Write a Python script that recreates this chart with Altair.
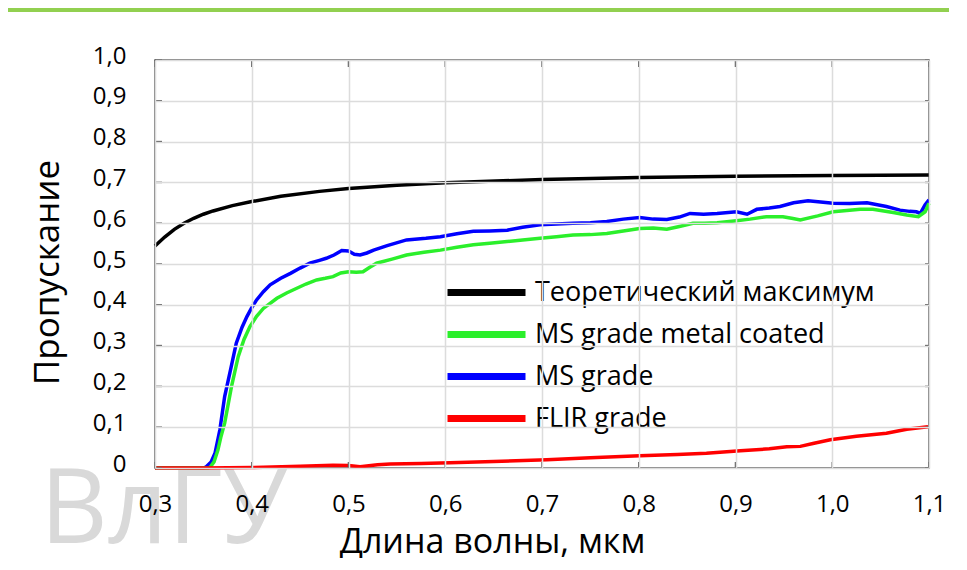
import altair as alt
import pandas as pd

# ---------------- data ----------------
series_names = ["Теоретический максимум", "MS grade metal coated", "MS grade", "FLIR grade"]
series_colors = ["#000000", "#2bef2b", "#0000ff", "#ff0000"]

wl_theory = [0.30, 0.31, 0.32, 0.33, 0.34, 0.35, 0.36, 0.38, 0.40, 0.43, 0.47, 0.50,
             0.55, 0.60, 0.70, 0.80, 0.90, 1.00, 1.10]
t_theory = [0.544, 0.566, 0.585, 0.600, 0.612, 0.622, 0.630, 0.643, 0.653, 0.666, 0.678, 0.685,
            0.693, 0.699, 0.707, 0.712, 0.715, 0.717, 0.718]

wl_ms = [0.30, 0.35, 0.353, 0.358, 0.362, 0.367, 0.372, 0.378, 0.384, 0.390, 0.395, 0.400,
         0.405, 0.412, 0.419, 0.430, 0.440, 0.450, 0.460, 0.470, 0.477, 0.485, 0.493, 0.500,
         0.506, 0.512, 0.519, 0.526, 0.540, 0.560, 0.580, 0.595, 0.612, 0.629, 0.646, 0.664,
         0.680, 0.698, 0.715, 0.732, 0.750, 0.767, 0.784, 0.801, 0.815, 0.829, 0.842, 0.853,
         0.867, 0.881, 0.901, 0.912, 0.922, 0.935, 0.946, 0.960, 0.975, 0.988, 1.001, 1.018,
         1.036, 1.056, 1.070, 1.080, 1.087, 1.091, 1.096, 1.100]
t_ms = [0.0, 0.0, 0.003, 0.015, 0.036, 0.093, 0.175, 0.240, 0.306, 0.345, 0.371, 0.393,
        0.412, 0.432, 0.449, 0.465, 0.477, 0.490, 0.502, 0.509, 0.514, 0.522, 0.533, 0.532,
        0.524, 0.522, 0.527, 0.534, 0.545, 0.559, 0.563, 0.567, 0.574, 0.580, 0.581, 0.583,
        0.590, 0.596, 0.598, 0.600, 0.601, 0.604, 0.610, 0.614, 0.610, 0.609, 0.615, 0.624,
        0.622, 0.624, 0.628, 0.622, 0.634, 0.637, 0.641, 0.650, 0.655, 0.652, 0.649, 0.648,
        0.650, 0.641, 0.632, 0.629, 0.628, 0.624, 0.645, 0.657]

wl_coated = [0.30, 0.355, 0.357, 0.361, 0.365, 0.368, 0.372, 0.379, 0.386, 0.392, 0.398, 0.405,
             0.412, 0.426, 0.436, 0.446, 0.456, 0.467, 0.476, 0.484, 0.492, 0.500, 0.508, 0.515,
             0.522, 0.529, 0.545, 0.560, 0.578, 0.595, 0.612, 0.629, 0.646, 0.664, 0.680, 0.698,
             0.715, 0.732, 0.750, 0.767, 0.784, 0.801, 0.815, 0.829, 0.842, 0.856, 0.868, 0.881,
             0.901, 0.915, 0.932, 0.949, 0.958, 0.967, 0.985, 1.001, 1.015, 1.029, 1.042, 1.063,
             1.077, 1.089, 1.096, 1.100]
t_coated = [0.0, 0.0, 0.002, 0.015, 0.044, 0.075, 0.110, 0.199, 0.273, 0.315, 0.346, 0.372,
            0.391, 0.416, 0.429, 0.440, 0.451, 0.461, 0.465, 0.469, 0.478, 0.481, 0.480, 0.481,
            0.492, 0.502, 0.512, 0.522, 0.529, 0.534, 0.541, 0.547, 0.551, 0.555, 0.559, 0.563,
            0.567, 0.571, 0.572, 0.575, 0.581, 0.587, 0.588, 0.585, 0.592, 0.600, 0.600, 0.601,
            0.606, 0.610, 0.616, 0.616, 0.612, 0.608, 0.618, 0.628, 0.631, 0.634, 0.634, 0.626,
            0.620, 0.616, 0.628, 0.649]

wl_flir = [0.30, 0.35, 0.40, 0.45, 0.484, 0.500, 0.512, 0.530, 0.543, 0.575, 0.605, 0.650,
           0.705, 0.750, 0.801, 0.840, 0.870, 0.905, 0.935, 0.953, 0.967, 0.980, 0.998, 1.025,
           1.056, 1.077, 1.099]
t_flir = [0.0, 0.0, 0.001, 0.004, 0.007, 0.006, 0.003, 0.008, 0.010, 0.011, 0.013, 0.016,
          0.020, 0.025, 0.030, 0.033, 0.036, 0.042, 0.047, 0.052, 0.053, 0.060, 0.069, 0.078,
          0.085, 0.095, 0.101]

x_ticks = [0.3, 0.4, 0.5, 0.6, 0.7, 0.8, 0.9, 1.0, 1.1]
y_ticks = [0.0, 0.1, 0.2, 0.3, 0.4, 0.5, 0.6, 0.7, 0.8, 0.9, 1.0]

x_title = "Длина волны, мкм"
y_title = "Пропускание"
watermark = "ВлГУ"

# ---------------- build table ----------------
rows = []
for name, wl, tv in [
    (series_names[0], wl_theory, t_theory),
    (series_names[2], wl_ms, t_ms),
    (series_names[1], wl_coated, t_coated),
    (series_names[3], wl_flir, t_flir),
]:
    for i, (a, b) in enumerate(zip(wl, tv)):
        rows.append({"series": name, "wl": a, "t": b, "i": i})
df = pd.DataFrame(rows)

W, H = 774, 408
FONT = "Open Sans"

x_scale = alt.Scale(domain=[0.3, 1.1], nice=False, zero=False)
y_scale = alt.Scale(domain=[0.0, 1.0], nice=False)

lab_expr_x = "replace(format(datum.value, '.1f'), '.', ',')"
lab_expr_y = "datum.value == 0 ? '0' : replace(format(datum.value, '.1f'), '.', ',')"

x_axis = alt.Axis(
    values=x_ticks, labelExpr=lab_expr_x, labelFont=FONT, labelFontSize=24,
    labelColor="#000000", labelPadding=24, labelFlush=False, ticks=False, domain=False,
    grid=True, gridColor="#dcdcdc", gridWidth=1.5,
    title=x_title, titleFont=FONT, titleFontSize=34, titleFontWeight="normal",
    titleColor="#000000", titleX=337, titleY=84, titleBaseline="alphabetic",
    titleAlign="center", zindex=1,
)
y_axis = alt.Axis(
    values=y_ticks, labelExpr=lab_expr_y, labelFont=FONT, labelFontSize=24,
    labelColor="#000000", labelPadding=29, labelOffset=-4, labelFlush=False,
    ticks=False, domain=False,
    grid=True, gridColor="#dcdcdc", gridWidth=1.5,
    title=y_title, titleFont=FONT, titleFontSize=35, titleFontWeight="normal",
    titleColor="#000000", titleX=-97, titleY=212, titleAngle=270,
    titleBaseline="alphabetic", titleAlign="center", zindex=1,
)

legend = alt.Legend(
    orient="none", legendX=315, legendY=216, title=None, padding=0,
    labelFont=FONT, labelFontSize=27, labelColor="#000000", labelLimit=0,
    symbolType="M-3,0H3", symbolSize=676, symbolStrokeWidth=7,
    rowPadding=11, labelOffset=32,
)

lines = alt.Chart(df).mark_line(strokeWidth=3.5).encode(
    x=alt.X("wl:Q", scale=x_scale, axis=x_axis),
    y=alt.Y("t:Q", scale=y_scale, axis=y_axis),
    color=alt.Color("series:N", scale=alt.Scale(domain=series_names, range=series_colors),
                    sort=series_names, legend=legend),
    detail="series:N",
    order="i:Q",
)

xt = pd.DataFrame({"v": x_ticks})
yt = pd.DataFrame({"v": y_ticks})
tick_color = "#555555"
x_ticks_bottom = alt.Chart(xt).mark_rule(color=tick_color, strokeWidth=1.5).encode(
    x=alt.X("v:Q", scale=x_scale, axis=x_axis), y=alt.value(H), y2=alt.value(H - 6))
x_ticks_top = alt.Chart(xt).mark_rule(color=tick_color, strokeWidth=1.5).encode(
    x=alt.X("v:Q", scale=x_scale, axis=x_axis), y=alt.value(0), y2=alt.value(7))
y_ticks_left = alt.Chart(yt).mark_rule(color=tick_color, strokeWidth=1.5).encode(
    y=alt.Y("v:Q", scale=y_scale, axis=y_axis), x=alt.value(0), x2=alt.value(7))
y_ticks_right = alt.Chart(yt).mark_rule(color=tick_color, strokeWidth=1.5).encode(
    y=alt.Y("v:Q", scale=y_scale, axis=y_axis), x=alt.value(W), x2=alt.value(W - 4))

band = alt.Chart(alt.Data(values=[{}])).mark_rect(color="#92d050").encode(
    x=alt.value(-147), x2=alt.value(W + 20), y=alt.value(-52), y2=alt.value(-48))

wm = alt.Chart(alt.Data(values=[{}])).mark_text(
    text=watermark, font=FONT, fontSize=105, color="#d9d9d9", align="left",
    baseline="alphabetic",
).encode(x=alt.value(-115), y=alt.value(483))

chart = alt.layer(
    band, wm, lines, x_ticks_bottom, x_ticks_top, y_ticks_left, y_ticks_right
).properties(
    width=W, height=H,
    autosize=alt.AutoSizeParams(type="none"),
    padding={"left": 147, "top": 52, "right": 20, "bottom": 90},
    background="#ffffff",
).configure_view(stroke="#555555", strokeWidth=1.5)

chart.save("out.html", embed_options={"renderer": "svg", "actions": False})
